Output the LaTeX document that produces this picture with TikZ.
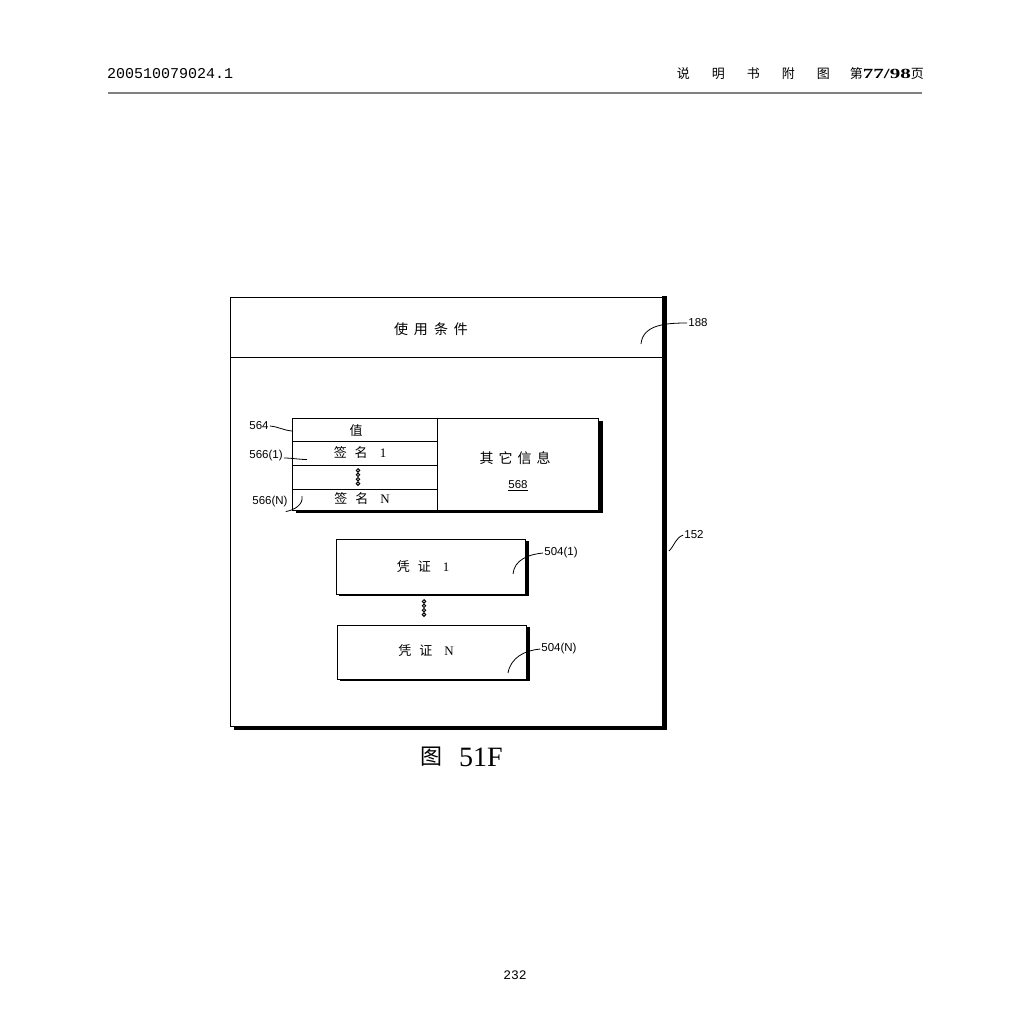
\documentclass[tikz,border=0pt]{standalone}
\usepackage{fontspec}
\usepackage{graphicx}
\setmainfont{Liberation Serif}
\newfontfamily\cjk{Noto Sans CJK SC}
\newfontfamily\lab{Liberation Sans}
\newfontfamily\mono{Liberation Mono}
\newcommand{\gapx}[1][8pt]{\hspace{#1}}
\begin{document}
\begin{tikzpicture}[x=1pt,y=-1pt,
  box/.style={draw, line width=0.9pt, inner sep=0pt, rectangle},
  cell/.style={box, font=\cjk\fontsize{13}{13}\selectfont},
  txt/.style={inner sep=0pt, font=\cjk\fontsize{13}{13}\selectfont},
  reflab/.style={font=\lab\fontsize{11.5}{11.5}\selectfont, inner sep=1pt},
  leader/.style={line width=0.8pt},
  shadowfill/.style={fill=black},
  dotc/.style={draw, line width=1pt, fill=white}
]
\useasboundingbox[fill=white] (0,0) rectangle (1025,1025);

% page header
\node[font=\mono\fontsize{15}{15}\selectfont, anchor=west, inner sep=0pt] (hnum) at (107,74) {200510079024.1};
\node[font=\cjk\fontsize{13}{13}\selectfont, anchor=east, inner sep=0pt] (hright) at (924,74)
  {说\gapx[22pt]明\gapx[22pt]书\gapx[22pt]附\gapx[22pt]图\gapx[20pt]第\scalebox{1.5}[1]{\rmfamily\bfseries\fontsize{14}{14}\selectfont 77/98}页};
\coordinate (hl1) at (108,93);
\coordinate (hl2) at (922,93);
\draw[line width=2.4pt, black!50] (hl1) -- (hl2);

% outer box 152
\node[box, minimum width=432pt, minimum height=429pt] (outer) at (446,511.5) {};
\fill[shadowfill] (outer.north east) ++(0,-1) rectangle ([xshift=5pt,yshift=-3pt]outer.south east);
\fill[shadowfill] ([xshift=4pt]outer.south west) rectangle ([xshift=5pt,yshift=-3.5pt]outer.south east);
\node[box, minimum width=432pt, minimum height=60pt] (head) at (446,327) {};
\node[txt, font=\cjk\fontsize{14}{14}\selectfont] (headtxt) at (431,329) {使\gapx[6pt]用\gapx[6pt]条\gapx[6pt]件};

% table
\node[cell, minimum width=145pt, minimum height=23pt] (val) at (364.5,429.5) {};
\node[txt] (valtxt) at (356,431) {值};
\node[cell, minimum width=145pt, minimum height=24pt] (sig1) at (364.5,453) {};
\node[txt] (sig1txt) at (360,453) {签\gapx 名\gapx[12pt]{\rmfamily\fontsize{13}{13}\selectfont 1}};
\node[cell, minimum width=145pt, minimum height=24pt] (sdots) at (364.5,477) {};
\node[cell, minimum width=145pt, minimum height=21pt] (sigN) at (364.5,499.5) {};
\node[txt] (sigNtxt) at (362,499) {签\gapx 名\gapx[12pt]{\rmfamily\fontsize{13}{13}\selectfont N}};
\node[box, minimum width=161pt, minimum height=92pt] (other) at (517.5,464) {};
\node[txt, font=\cjk\fontsize{14}{14}\selectfont] (othertxt) at (515,458) {其\gapx[5pt]它\gapx[5pt]信\gapx[5pt]息};
\node[reflab] (l568) at (518,486) {\underline{568}};
\coordinate (tdots) at (358,477);
\foreach \d in {-6.6,-2.2,2.2,6.6} \draw[dotc] ([yshift=\d pt]tdots) circle (1.7pt);
\fill[shadowfill] ([yshift=-3pt]other.north east) rectangle ([xshift=5pt,yshift=-3pt]other.south east);
\fill[shadowfill] ([xshift=4pt]sigN.south west) rectangle ([xshift=5pt,yshift=-3pt]other.south east);

% credentials
\node[box, minimum width=189pt, minimum height=55pt] (cred1) at (430.5,566.5) {};
\node[txt] (cred1txt) at (423,567) {凭\gapx 证\gapx[12pt]{\rmfamily\fontsize{13}{13}\selectfont 1}};
\node[box, minimum width=189pt, minimum height=54pt] (credN) at (431.5,652) {};
\node[txt] (credNtxt) at (426,651) {凭\gapx 证\gapx[12pt]{\rmfamily\fontsize{13}{13}\selectfont N}};
\fill[shadowfill] ([yshift=-2pt]cred1.north east) rectangle ([xshift=4pt,yshift=-2pt]cred1.south east);
\fill[shadowfill] ([xshift=3pt]cred1.south west) rectangle ([xshift=4pt,yshift=-2pt]cred1.south east);
\fill[shadowfill] ([yshift=-2pt]credN.north east) rectangle ([xshift=4pt,yshift=-2pt]credN.south east);
\fill[shadowfill] ([xshift=3pt]credN.south west) rectangle ([xshift=4pt,yshift=-2pt]credN.south east);
\coordinate (cdots) at (424,608);
\foreach \d in {-6.6,-2.2,2.2,6.6} \draw[dotc] ([yshift=\d pt]cdots) circle (1.7pt);

% reference labels and leaders
\node[reflab] (l188) at (698,323) {188};
\coordinate (c188) at (641,344);
\draw[leader] (l188.west) to[out=180,in=85] (c188);

\node[reflab] (l152) at (694,535) {152};
\coordinate (c152) at (669,551);
\draw[leader] (l152.west) to[out=200,in=45] (c152);

\node[reflab] (l5041) at (561,553) {504(1)};
\coordinate (c5041) at (513,574);
\draw[leader] (l5041.west) to[out=185,in=85] (c5041);

\node[reflab] (l504N) at (559,649) {504(N)};
\coordinate (c504N) at (508,673);
\draw[leader] (l504N.west) to[out=185,in=80] (c504N);

\node[reflab] (l564) at (259,426) {564};
\coordinate (c564) at (292,431);
\draw[leader] (l564.east) to[out=-5,in=175] (c564);

\node[reflab] (l5661) at (266,456) {566(1)};
\coordinate (c5661) at (307,459.5);
\draw[leader] ([yshift=-2pt]l5661.east) to[out=0,in=180] (c5661);

\node[reflab] (l566N) at (270,502) {566(N)};
\coordinate (c566N) at (302,496);
\draw[leader] ([xshift=-3pt,yshift=-3pt]l566N.south east) to[out=10,in=-80] (c566N);

% caption
\node[font=\cjk\fontsize{22}{22}\selectfont, inner sep=0pt] (capfig) at (431,757) {图};
\node[font=\rmfamily\fontsize{28}{28}\selectfont, anchor=west, inner sep=0pt] (capnum) at (459,757) {51F};

% footer
\node[font=\mono\fontsize{13}{13}\selectfont, inner sep=0pt] (foot) at (515,975) {232};
\end{tikzpicture}
\end{document}
